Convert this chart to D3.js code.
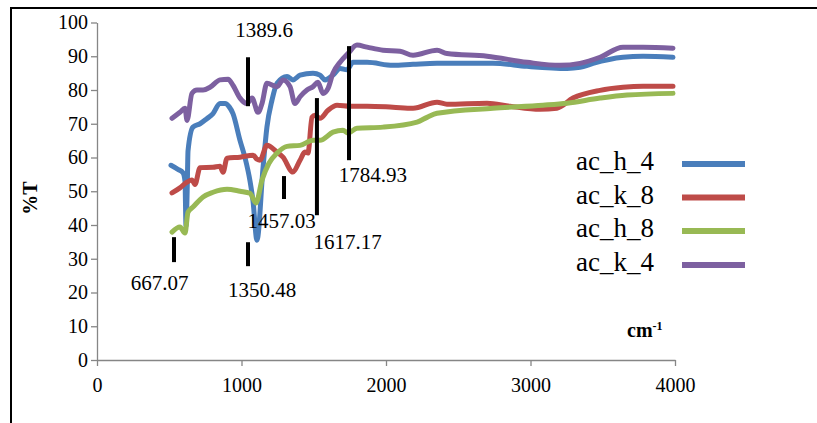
<!DOCTYPE html>
<html>
<head>
<meta charset="utf-8">
<script src="https://cdn.jsdelivr.net/npm/d3@7"></script>
<style>
  html, body { margin: 0; padding: 0; background: #fff; }
  svg { display: block; }
  text { font-family: "Liberation Serif", "Times New Roman", Times, "Tinos", "DejaVu Serif", "Noto Serif", serif; fill: #000; }
</style>
</head>
<body>
<svg id="chart" width="817" height="423"></svg>
<script>
// ---- data (wavenumber cm-1, %T) ----
const acH4 = [[512,57.7],[560,56.5],[595,55.5],[609,53],[616,39.7],[624,50],[630,62],[664,69],[713,70],[760,71.5],[803,73],[851,76],[886,76],[915,75],[941,73],[990,65],[1024,60],[1059,53],[1080,47],[1107,35.5],[1149,57],[1176,69],[1211,77],[1246,82],[1315,84],[1356,83],[1405,84.4],[1495,85],[1543,84.4],[1578,83],[1633,84.4],[1682,86.4],[1730,86],[1772,88.2],[1869,88.2],[2048,87.3],[2187,87.6],[2353,87.9],[2740,87.9],[2976,87],[3253,86.4],[3343,86.7],[3433,87.9],[3640,89.7],[3779,90],[3986,89.7]];
const acK8 = [[519,49.5],[574,51],[623,52.7],[657,53.3],[678,52],[713,57],[803,57.1],[851,57.4],[872,55.6],[900,59.8],[990,60.1],[1080,60.7],[1107,59.5],[1128,59.2],[1176,63.6],[1246,61.6],[1287,60.1],[1356,55.7],[1405,59.2],[1439,61.6],[1460,61.3],[1488,71.9],[1509,72.5],[1543,71.6],[1599,74],[1661,75.5],[1751,75.2],[1869,75.2],[2048,74.9],[2187,74.6],[2353,76.4],[2422,75.8],[2699,76.1],[2858,75.2],[3066,74.3],[3183,74.6],[3294,77.6],[3481,79.9],[3640,80.8],[3779,81.1],[3986,81.1]];
const acH8 = [[519,37.9],[574,39.4],[609,37.6],[630,43.8],[664,45.3],[734,48.3],[803,49.7],[900,50.6],[990,50],[1059,49.4],[1100,46.5],[1142,53.3],[1190,58.3],[1246,61.3],[1315,63.3],[1405,63.6],[1495,65.1],[1543,65.1],[1633,67.5],[1702,68.1],[1737,67.2],[1799,68.7],[1979,69],[2215,70.5],[2284,71.9],[2353,73.1],[2740,74.6],[3087,75.5],[3253,76.1],[3481,77.6],[3668,78.5],[3986,79]];
const acK4 = [[519,71.6],[574,73.4],[609,74.6],[623,71],[657,79],[692,80],[734,80],[782,80.8],[851,83],[907,83.2],[941,81.4],[990,77.6],[1038,76],[1073,77.6],[1114,73.4],[1142,76],[1176,82],[1246,81],[1287,83],[1336,81],[1370,76],[1405,78],[1453,80],[1495,81],[1529,82.3],[1564,79],[1599,80.5],[1633,85],[1682,88.2],[1737,90.8],[1799,93.3],[1869,92.7],[1979,91.8],[2097,91.5],[2187,90.3],[2353,91.8],[2422,90.8],[2699,90],[2976,88.2],[3204,87.3],[3343,87.9],[3481,89.7],[3640,92.7],[3779,92.7],[3986,92.4]];

const seriesNames = ["ac_h_4", "ac_k_8", "ac_h_8", "ac_k_4"];
const seriesData = [acH4, acK8, acH8, acK4];
const seriesColors = ["#4a7ebb", "#be4b48", "#98b954", "#7d60a0"];

const xTicks = [0, 1000, 2000, 3000, 4000];
const yTicks = [0, 10, 20, 30, 40, 50, 60, 70, 80, 90, 100];

// peak annotations: label, marker x, marker y from/to, label x, label baseline y (data units)
const peakLabels = ["1389.6", "1784.93", "1617.17", "1457.03", "667.07", "1350.48"];
const peakX      = [1045, 1744, 1522, 1294, 533, 1045];
const peakY1     = [89.7, 93.0, 77.6, 54.5, 36.4, 34.9];
const peakY2     = [75.2, 59.2, 42.9, 47.7, 29.0, 27.8];
const peakTextX  = [1156, 1910, 1734, 1277, 433, 1142];
const peakTextY  = [95.6, 52.7, 32.9, 39.1, 20.7, 18.7];

const FONT = '"Liberation Serif", "Times New Roman", Times, "Tinos", "DejaVu Serif", "Noto Serif", serif';

// ---- drawing ----
const svg = d3.select("#chart");
svg.append("rect").attr("width", 817).attr("height", 423).attr("fill", "#fff");

// outer frame (cropped)
svg.append("path").attr("d", "M11,423 L11,8 L817,8")
  .attr("fill", "none").attr("stroke", "#000").attr("stroke-width", 2);

const x = d3.scaleLinear().domain([0, 4000]).range([97, 675]);
const y = d3.scaleLinear().domain([0, 100]).range([360, 22.5]);

const axisColor = "#868686";

const gy = svg.append("g").attr("transform", "translate(97,0)")
  .call(d3.axisLeft(y).tickValues(yTicks).tickSize(6).tickSizeOuter(0).tickPadding(3));
const gx = svg.append("g").attr("transform", "translate(0,360)")
  .call(d3.axisBottom(x).tickValues(xTicks).tickFormat(d3.format("d")).tickSize(6).tickSizeOuter(0).tickPadding(12));
[gx, gy].forEach(g => {
  g.attr("font-family", FONT).attr("font-size", 20);
  g.select(".domain").attr("stroke", axisColor).attr("stroke-width", 1.3);
  g.selectAll(".tick line").attr("stroke", axisColor).attr("stroke-width", 1.3);
  g.selectAll(".tick text").attr("font-family", FONT).style("font-family", FONT)
    .style("font-size", "20px").attr("fill", "#000");
});

// series
const line = d3.line().x(d => x(d[0])).y(d => y(d[1])).curve(d3.curveMonotoneX);
seriesData.forEach((data, i) => {
  svg.append("path").datum(data)
    .attr("d", line)
    .attr("fill", "none")
    .attr("stroke", seriesColors[i])
    .attr("stroke-width", 5)
    .attr("stroke-linejoin", "round")
    .attr("stroke-linecap", "round");
});

// annotations
peakLabels.forEach((lab, i) => {
  svg.append("line")
    .attr("x1", x(peakX[i])).attr("x2", x(peakX[i]))
    .attr("y1", y(peakY1[i])).attr("y2", y(peakY2[i]))
    .attr("stroke", "#000").attr("stroke-width", 4);
  svg.append("text")
    .attr("x", x(peakTextX[i])).attr("y", y(peakTextY[i]))
    .attr("text-anchor", "middle")
    .style("font-family", FONT)
    .style("font-size", "21px")
    .text(lab);
});

// axis titles
svg.append("text")
  .attr("transform", "translate(37,198) rotate(-90)")
  .attr("text-anchor", "middle")
  .style("font-family", FONT)
  .style("font-size", "20px").style("font-weight", "bold")
  .text("%T");
const cm = svg.append("text").attr("x", 627).attr("y", 337)
  .style("font-family", FONT)
  .style("font-size", "20px").style("font-weight", "bold");
cm.append("tspan").text("cm");
cm.append("tspan").attr("dy", -7).style("font-size", "12px").text("-1");

// legend
const legendBaseline = [170, 203.5, 237, 271];
seriesNames.forEach((name, i) => {
  svg.append("text").attr("x", 576).attr("y", legendBaseline[i])
    .style("font-family", FONT)
    .style("font-size", "27px").text(name);
  svg.append("line")
    .attr("x1", 682).attr("x2", 745)
    .attr("y1", legendBaseline[i] - 6).attr("y2", legendBaseline[i] - 6)
    .attr("stroke", seriesColors[i]).attr("stroke-width", 6);
});
</script>
</body>
</html>
